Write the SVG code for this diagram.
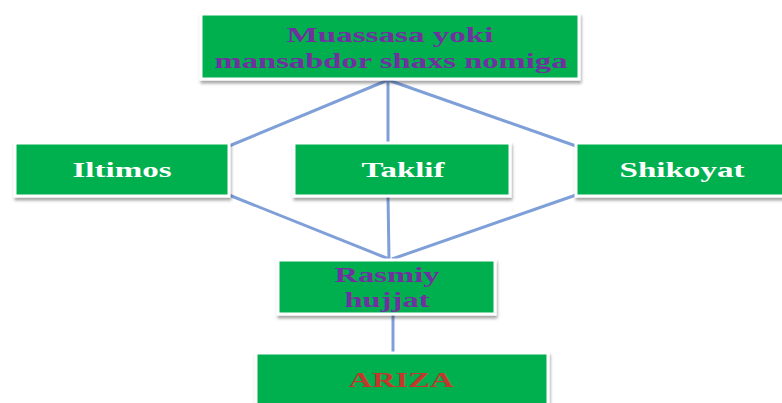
<svg xmlns="http://www.w3.org/2000/svg" width="782" height="403" viewBox="0 0 782 403">
<defs>
<filter id="sh" x="-10%" y="-20%" width="120%" height="150%">
<feDropShadow dx="1" dy="3" stdDeviation="1.5" flood-color="#000" flood-opacity="0.35"/>
</filter>
<style>
.box{fill:#00b050;stroke:#ffffff;stroke-width:3;filter:url(#sh)}
.t{font-family:"Liberation Serif","Times New Roman",serif;font-weight:bold;font-size:22px;text-anchor:middle}
.w{fill:#ffffff}
.p{fill:#7030a0}
.r{fill:#c0392b}
.c{stroke:#7f9fd8;stroke-width:3;fill:none}
</style>
</defs>
<rect width="782" height="403" fill="#ffffff"/>
<g id="connectors">
<line class="c" x1="388" y1="80" x2="229" y2="146"/>
<line class="c" x1="388" y1="80" x2="388" y2="143"/>
<line class="c" x1="388" y1="80" x2="576" y2="146"/>
<line class="c" x1="229" y1="195" x2="389" y2="259"/>
<line class="c" x1="388" y1="196" x2="389" y2="259"/>
<line class="c" x1="576" y1="195" x2="392" y2="259"/>
<line class="c" x1="393" y1="314" x2="393" y2="353"/>
</g>
<g id="node-top">
<rect class="box" x="201" y="14" width="378" height="65"/>
<text class="t p" x="390" y="42" textLength="207" lengthAdjust="spacingAndGlyphs">Muassasa yoki</text>
<text class="t p" x="391" y="68" textLength="353" lengthAdjust="spacingAndGlyphs">mansabdor shaxs nomiga</text>
</g>
<g id="node-iltimos">
<rect class="box" x="15" y="143" width="214" height="53"/>
<text class="t w" x="122" y="177" textLength="99" lengthAdjust="spacingAndGlyphs">Iltimos</text>
</g>
<g id="node-taklif">
<rect class="box" x="294" y="143" width="216" height="53"/>
<text class="t w" x="403" y="177" textLength="83" lengthAdjust="spacingAndGlyphs">Taklif</text>
</g>
<g id="node-shikoyat">
<rect class="box" x="576" y="143" width="210" height="53"/>
<text class="t w" x="682" y="177" textLength="125" lengthAdjust="spacingAndGlyphs">Shikoyat</text>
</g>
<g id="node-rasmiy">
<rect class="box" x="278" y="260" width="217" height="54"/>
<text class="t p" x="387" y="282" textLength="105" lengthAdjust="spacingAndGlyphs">Rasmiy</text>
<text class="t p" x="387" y="307" textLength="85" lengthAdjust="spacingAndGlyphs">hujjat</text>
</g>
<g id="node-ariza">
<rect class="box" x="256" y="353" width="292" height="60"/>
<text class="t r" x="401" y="387" textLength="105" lengthAdjust="spacingAndGlyphs">ARIZA</text>
</g>
</svg>
